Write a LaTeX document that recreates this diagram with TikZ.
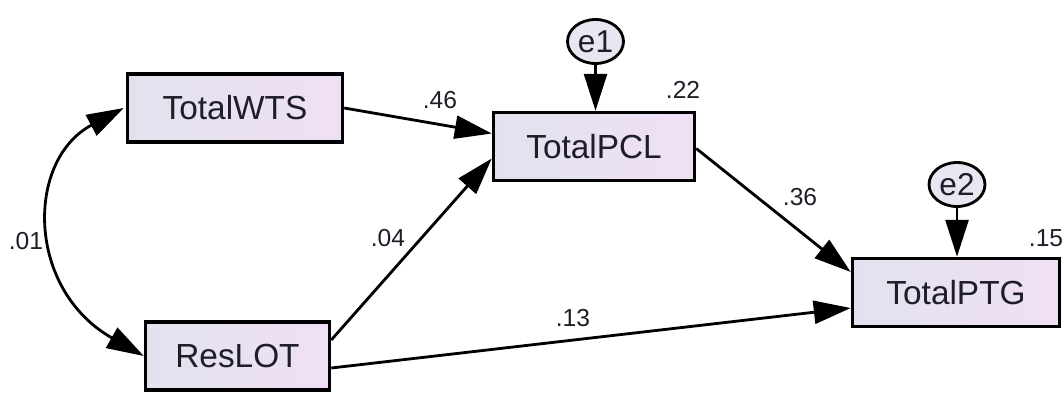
\documentclass[tikz,border=0pt]{standalone}
\usepackage{fontspec}
\setmainfont{Liberation Sans}
\usetikzlibrary{calc,arrows.meta,shapes.geometric}
\definecolor{boxleft}{RGB}{226,226,238}
\definecolor{boxright}{RGB}{240,224,246}
\definecolor{errfill}{RGB}{232,230,240}
\definecolor{ink}{RGB}{30,30,40}

\begin{document}
\begin{tikzpicture}[x=0.02cm,y=-0.02cm,
  var/.style={draw=black,line width=2pt,rectangle,left color=boxleft,right color=boxright,text=ink,font=\fontsize{19}{21}\selectfont,minimum height=1.36cm},
  err/.style={draw=black,line width=1.6pt,ellipse,fill=errfill,text=ink,font=\fontsize{18}{20}\selectfont,inner sep=0pt,minimum width=1.12cm,minimum height=0.88cm},
  coef/.style={text=ink,font=\fontsize{14}{16}\selectfont,inner sep=1pt},
  regarrow/.style={line width=1.6pt,-{Triangle[length=0.74cm,width=0.46cm]}}]

  \useasboundingbox (0,0) rectangle (1064,392);

  % observed variables
  \node [var,minimum width=4.3cm] at (235,108) (wts) {TotalWTS};
  \node [var,minimum width=4.02cm] at (594,146.5) (pcl) {TotalPCL};
  \node [var,minimum width=4.14cm] at (956,292.5) (ptg) {TotalPTG};
  \node [var,minimum width=3.68cm] at (237.5,356) (lot) {ResLOT};

  % error terms
  \node [err] at (595.5,41.5) (e1) {e1};
  \node [err] at (957,184.5) (e2) {e2};

  \draw [regarrow] (e1.south) -- (e1.south |- pcl.north);
  \draw [regarrow] (e2.south) -- (e2.south |- ptg.north);

  \draw [regarrow] (wts.east) -- ($(pcl.west)+(0,-13)$);
  \draw [regarrow] ($(lot.east)+(0,-16)$) -- ($(pcl.west)+(0,12)$);
  \draw [regarrow] ($(lot.east)+(0,12)$) -- ($(ptg.west)+(0,15.5)$);
  \draw [regarrow] ($(pcl.east)+(0,2)$) -- ($(ptg.west)+(0,-20.5)$);

  \draw [line width=1.6pt,{Triangle[length=0.74cm,width=0.46cm]}-{Triangle[length=0.74cm,width=0.46cm]}]
    ($(wts.west)+(-2,0)$) .. controls +(-98,52) and +(-118,-67) .. (lot.west);

  % estimates
  \node [coef] at (440,100) (c46) {.46};
  \node [coef] at (683,90) (r22) {.22};
  \node [coef] at (800,197) (c36) {.36};
  \node [coef] at (1046,238) (r15) {.15};
  \node [coef] at (26,241) (c01) {.01};
  \node [coef] at (388,238) (c04) {.04};
  \node [coef] at (573,318) (c13) {.13};

\end{tikzpicture}
\end{document}
